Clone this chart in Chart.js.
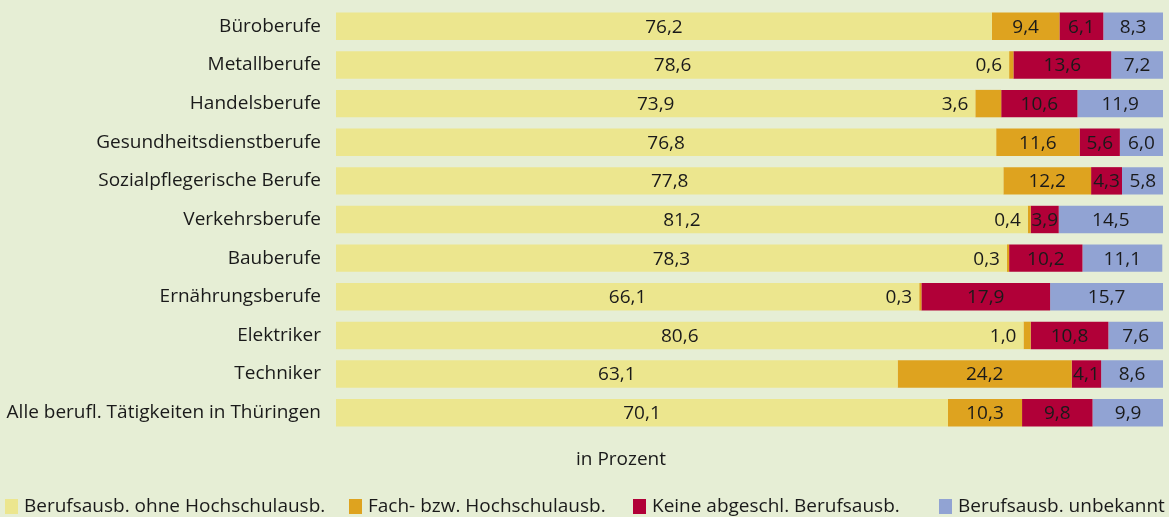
<!DOCTYPE html>
<html lang="de">
<head>
<meta charset="utf-8">
<title>Berufsausbildung nach Berufsgruppen</title>
<script src="https://cdn.jsdelivr.net/npm/chart.js@4"></script>
<style>
  html, body { margin: 0; padding: 0; background: #e6eed5; }
  #wrap { width: 1169px; height: 517px; }
</style>
</head>
<body>
<div id="wrap"><canvas id="chart" width="1169" height="517"></canvas></div>
<script>
// Chart data
const categories = [
  "Büroberufe", "Metallberufe", "Handelsberufe", "Gesundheitsdienstberufe",
  "Sozialpflegerische Berufe", "Verkehrsberufe", "Bauberufe", "Ernährungsberufe",
  "Elektriker", "Techniker", "Alle berufl. Tätigkeiten in Thüringen"
];
const seriesNames = [
  "Berufsausb. ohne Hochschulausb.", "Fach- bzw. Hochschulausb.",
  "Keine abgeschl. Berufsausb.", "Berufsausb. unbekannt"
];
const ohneHochschule = [76.2, 78.6, 73.9, 76.8, 77.8, 81.2, 78.3, 66.1, 80.6, 63.1, 70.1];
const fachHochschule = [9.4, 0.6, 3.6, 11.6, 12.2, 0.4, 0.3, 0.3, 1.0, 24.2, 10.3];
const keineAusbildung = [6.1, 13.6, 10.6, 5.6, 4.3, 3.9, 10.2, 17.9, 10.8, 4.1, 9.8];
const unbekannt = [8.3, 7.2, 11.9, 6.0, 5.8, 14.5, 11.1, 15.7, 7.6, 8.6, 9.9];
const colors = ["#ece68e", "#dea31f", "#b10038", "#91a3d3"];

const FONT = "'Open Sans', sans-serif";
const SIZE = 19;
const TEXT = "#1a1a1a";

const fmt = (v) => v.toFixed(1).replace(".", ",");

// value labels inside (or left of) each segment, plus caption and legend
const labelPlugin = {
  id: "labels",
  afterDatasetsDraw(chart) {
    const ctx = chart.ctx;
    ctx.save();
    ctx.font = SIZE + "px " + FONT;
    ctx.fillStyle = TEXT;
    ctx.textBaseline = "middle";
    chart.data.datasets.forEach((ds, di) => {
      const meta = chart.getDatasetMeta(di);
      meta.data.forEach((bar, i) => {
        const v = ds.data[i];
        const left = Math.min(bar.x, bar.base);
        const right = Math.max(bar.x, bar.base);
        if (di === 1 && v < 5) {
          ctx.textAlign = "right";
          ctx.fillText(fmt(v), left - 7, bar.y + 1);
        } else {
          ctx.textAlign = "center";
          ctx.fillText(fmt(v), (left + right) / 2, bar.y + 1);
        }
      });
    });
    ctx.restore();
  },
  afterDraw(chart) {
    const ctx = chart.ctx;
    ctx.save();
    ctx.font = SIZE + "px " + FONT;
    ctx.fillStyle = TEXT;
    ctx.textBaseline = "middle";
    ctx.textAlign = "center";
    ctx.fillText("in Prozent", 621, 460);
    // legend
    const boxX = [5, 349, 633, 939];
    ctx.textAlign = "left";
    seriesNames.forEach((name, k) => {
      ctx.fillStyle = colors[k];
      ctx.fillRect(boxX[k], 499, 13, 15);
      ctx.fillStyle = TEXT;
      ctx.fillText(name, boxX[k] + 19, 507);
    });
    ctx.restore();
  }
};

const values = [ohneHochschule, fachHochschule, keineAusbildung, unbekannt];

new Chart(document.getElementById("chart"), {
  type: "bar",
  data: {
    labels: categories,
    datasets: values.map((arr, k) => ({
      label: seriesNames[k],
      data: arr,
      backgroundColor: colors[k],
      borderWidth: 0,
      barPercentage: 0.71,
      categoryPercentage: 1,
      // first segment is drawn from the left edge of the plot
      base: k === 0 ? -15 : undefined
    }))
  },
  options: {
    indexAxis: "y",
    responsive: false,
    animation: false,
    layout: { padding: { top: 7, right: 6, bottom: 85, left: 0 } },
    plugins: {
      legend: { display: false },
      tooltip: { enabled: false }
    },
    scales: {
      x: {
        stacked: true,
        display: false,
        min: -15,
        max: 100
      },
      y: {
        stacked: true,
        grid: { display: false, drawTicks: false },
        border: { display: false },
        ticks: {
          padding: 15,
          color: TEXT,
          font: { family: FONT, size: SIZE }
        },
        afterFit(scale) {
          scale.width = 336;
          scale.paddingTop = 0;
          scale.paddingBottom = 0;
        }
      }
    }
  },
  plugins: [labelPlugin]
});
</script>
</body>
</html>
